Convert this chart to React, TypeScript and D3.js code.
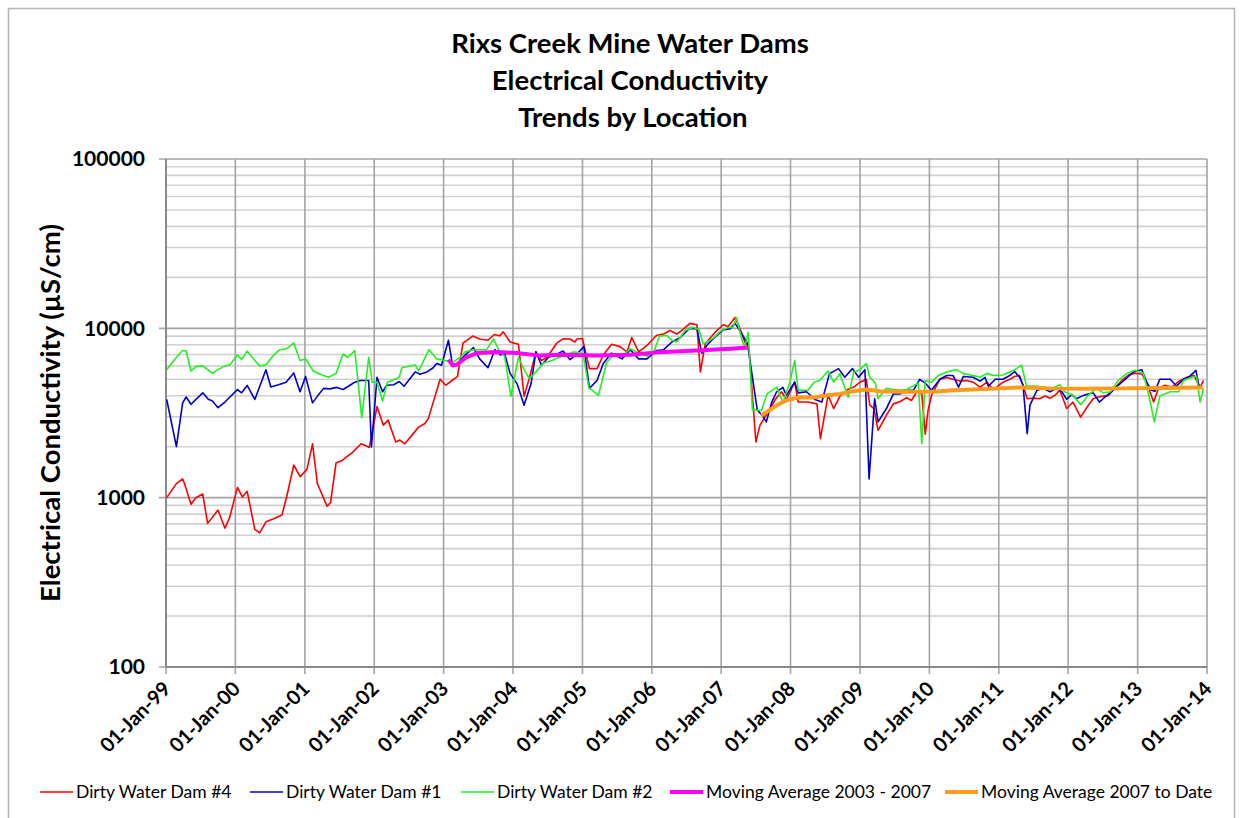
import { useEffect } from 'react';
import * as d3 from 'd3';

// Sample dates are decimal years, values in µS/cm
const dam4: [number, number][] = [
  [1999.01, 1000], [1999.15, 1210], [1999.24, 1290], [1999.27, 1200], [1999.36, 915], [1999.43, 1000],
  [1999.53, 1050], [1999.60, 705], [1999.75, 845], [1999.85, 660], [1999.92, 770], [2000.03, 1150],
  [2000.10, 1010], [2000.17, 1090], [2000.28, 650], [2000.35, 620], [2000.44, 720], [2000.55, 750],
  [2000.67, 790], [2000.74, 1020], [2000.84, 1560], [2000.93, 1330], [2001.03, 1470], [2001.11, 2080],
  [2001.18, 1210], [2001.32, 890], [2001.37, 935], [2001.45, 1610], [2001.53, 1650], [2001.60, 1740],
  [2001.68, 1840], [2001.81, 2080], [2001.87, 2030], [2001.93, 1980], [2002.04, 3450], [2002.13, 2680],
  [2002.20, 2870], [2002.31, 2130], [2002.37, 2190], [2002.44, 2080], [2002.64, 2610], [2002.73, 2740],
  [2002.78, 2930], [2002.95, 5000], [2003.03, 4610], [2003.12, 4920], [2003.20, 5180], [2003.28, 8170],
  [2003.42, 9000], [2003.52, 8650], [2003.64, 8500], [2003.73, 9200], [2003.81, 9030], [2003.86, 9530],
  [2003.96, 8300], [2004.08, 8050], [2004.16, 3970], [2004.24, 5140], [2004.33, 7260], [2004.41, 6450],
  [2004.49, 6750], [2004.63, 8170], [2004.72, 8670], [2004.82, 8650], [2004.89, 8300], [2004.92, 8650],
  [2005.00, 8700], [2005.10, 5780], [2005.21, 5780], [2005.30, 6950], [2005.42, 8050], [2005.54, 7800],
  [2005.64, 7260], [2005.71, 8830], [2005.81, 7260], [2005.93, 7920], [2006.07, 9100], [2006.17, 9250],
  [2006.26, 9700], [2006.36, 9250], [2006.45, 9860], [2006.55, 10700], [2006.65, 10500], [2006.70, 5530],
  [2006.77, 8100], [2006.91, 9460], [2007.03, 10500], [2007.10, 10250], [2007.20, 11600], [2007.27, 9990],
  [2007.34, 8300], [2007.40, 7750], [2007.50, 2130], [2007.56, 2680], [2007.66, 3130], [2007.78, 3800],
  [2007.87, 4220], [2007.94, 3800], [2008.06, 4810], [2008.11, 3670], [2008.25, 3670], [2008.38, 3580],
  [2008.43, 2230], [2008.54, 4020], [2008.62, 3360], [2008.71, 3970], [2008.82, 4350], [2008.91, 4500],
  [2009.00, 4810], [2009.09, 5000], [2009.14, 3520], [2009.20, 3360], [2009.26, 2500], [2009.38, 3070],
  [2009.48, 3580], [2009.58, 3700], [2009.67, 3900], [2009.74, 3750], [2009.82, 4220], [2009.89, 4100],
  [2009.94, 2370], [2009.98, 3270], [2010.03, 4020], [2010.15, 5000], [2010.25, 5130], [2010.34, 5000],
  [2010.44, 4880], [2010.54, 4920], [2010.63, 4810], [2010.73, 4500], [2010.83, 4810], [2010.92, 4350],
  [2010.97, 4500], [2011.06, 4810], [2011.16, 5000], [2011.23, 5200], [2011.30, 5270], [2011.35, 4610],
  [2011.41, 3840], [2011.50, 3870], [2011.59, 3840], [2011.67, 3980], [2011.74, 3870], [2011.81, 4020],
  [2011.88, 4310], [2011.98, 3360], [2012.07, 3670], [2012.18, 2990], [2012.27, 3420], [2012.36, 3840],
  [2012.43, 3930], [2012.51, 3980], [2012.58, 4020], [2012.67, 4420], [2012.77, 4920], [2012.87, 5300],
  [2012.96, 5430], [2013.06, 5370], [2013.13, 4810], [2013.23, 3670], [2013.30, 4420], [2013.39, 4610],
  [2013.49, 4500], [2013.59, 4850], [2013.71, 5140], [2013.81, 5270], [2013.90, 4500], [2013.95, 4920],
];

const dam1: [number, number][] = [
  [1999.01, 3810], [1999.15, 2000], [1999.24, 3630], [1999.29, 3930], [1999.36, 3560], [1999.53, 4160],
  [1999.61, 3810], [1999.67, 3720], [1999.75, 3400], [1999.85, 3670], [2000.03, 4350], [2000.09, 4160],
  [2000.17, 4600], [2000.28, 3800], [2000.44, 5700], [2000.51, 4500], [2000.62, 4640], [2000.73, 4810],
  [2000.84, 5450], [2000.93, 4220], [2001.01, 5200], [2001.11, 3630], [2001.19, 4020], [2001.27, 4420],
  [2001.36, 4390], [2001.46, 4480], [2001.55, 4350], [2001.65, 4610], [2001.72, 4810], [2001.80, 4920],
  [2001.92, 4920], [2001.96, 1990], [2002.04, 5140], [2002.12, 4220], [2002.18, 4610], [2002.28, 4640],
  [2002.36, 4850], [2002.43, 4550], [2002.59, 5530], [2002.66, 5350], [2002.76, 5530], [2002.85, 5850],
  [2002.90, 6200], [2002.97, 6050], [2003.07, 8500], [2003.13, 6050], [2003.21, 6250], [2003.31, 6950],
  [2003.43, 7700], [2003.52, 6600], [2003.64, 5850], [2003.74, 7480], [2003.82, 6950], [2003.88, 7100],
  [2003.96, 5400], [2004.06, 4700], [2004.16, 3510], [2004.26, 4700], [2004.33, 7260], [2004.41, 6050],
  [2004.51, 6750], [2004.61, 6950], [2004.72, 7340], [2004.82, 6540], [2004.92, 7050], [2005.02, 7800],
  [2005.10, 4420], [2005.21, 4920], [2005.30, 6200], [2005.42, 7140], [2005.57, 6600], [2005.69, 7480],
  [2005.81, 6600], [2005.93, 6600], [2006.07, 7400], [2006.17, 7480], [2006.29, 8300], [2006.41, 8830],
  [2006.54, 9960], [2006.65, 9960], [2006.72, 7140], [2006.81, 8100], [2006.94, 9100], [2007.03, 9780],
  [2007.13, 9960], [2007.20, 10700], [2007.30, 9270], [2007.38, 8100], [2007.52, 3300], [2007.59, 3070],
  [2007.65, 2800], [2007.73, 3670], [2007.80, 4220], [2007.89, 4480], [2007.94, 4020], [2008.06, 4810],
  [2008.11, 4160], [2008.23, 4220], [2008.35, 3800], [2008.45, 3670], [2008.56, 5400], [2008.69, 5780],
  [2008.78, 5140], [2008.89, 5780], [2008.98, 5140], [2009.07, 5700], [2009.13, 1290], [2009.21, 3850],
  [2009.26, 2800], [2009.38, 3360], [2009.48, 4100], [2009.58, 4100], [2009.67, 4310], [2009.77, 4310],
  [2009.86, 5000], [2009.94, 4750], [2010.03, 4310], [2010.15, 5000], [2010.25, 5270], [2010.34, 5270],
  [2010.42, 4500], [2010.49, 5200], [2010.63, 5140], [2010.73, 4880], [2010.80, 5140], [2010.85, 4550],
  [2010.95, 5000], [2011.06, 5000], [2011.16, 5270], [2011.23, 5550], [2011.30, 5140], [2011.35, 4610],
  [2011.41, 2390], [2011.45, 3520], [2011.55, 4310], [2011.64, 4420], [2011.74, 4220], [2011.83, 4420],
  [2011.91, 4220], [2011.98, 3810], [2012.05, 4060], [2012.12, 3840], [2012.22, 4020], [2012.36, 4160],
  [2012.45, 3670], [2012.53, 3930], [2012.63, 4250], [2012.72, 4610], [2012.82, 5000], [2012.94, 5530],
  [2013.06, 5700], [2013.13, 4810], [2013.20, 4310], [2013.25, 4250], [2013.32, 5000], [2013.47, 5000],
  [2013.56, 4560], [2013.66, 5000], [2013.75, 5200], [2013.84, 5650], [2013.89, 4420],
];

const dam2: [number, number][] = [
  [1999.01, 5700], [1999.15, 6750], [1999.24, 7400], [1999.29, 7340], [1999.36, 5600], [1999.43, 5940],
  [1999.53, 6000], [1999.67, 5430], [1999.75, 5700], [1999.85, 6000], [1999.92, 6080], [2000.03, 6950],
  [2000.09, 6540], [2000.17, 7340], [2000.28, 6450], [2000.35, 6000], [2000.44, 6080], [2000.55, 6950],
  [2000.64, 7480], [2000.74, 7580], [2000.84, 8200], [2000.93, 6450], [2001.01, 6600], [2001.12, 5600],
  [2001.22, 5350], [2001.34, 5140], [2001.45, 5420], [2001.55, 7050], [2001.62, 6750], [2001.72, 7400],
  [2001.82, 2970], [2001.92, 6750], [2001.97, 4810], [2002.04, 4810], [2002.12, 3720], [2002.19, 4810],
  [2002.28, 4970], [2002.36, 5140], [2002.40, 5850], [2002.59, 6080], [2002.64, 5600], [2002.79, 7480],
  [2002.90, 6600], [2003.02, 6450], [2003.13, 6300], [2003.24, 6750], [2003.31, 7260], [2003.43, 7480],
  [2003.62, 7480], [2003.72, 8650], [2003.81, 7260], [2003.88, 6840], [2003.97, 3970], [2004.08, 6750],
  [2004.16, 5700], [2004.24, 5020], [2004.33, 5530], [2004.44, 6250], [2004.56, 6450], [2004.70, 6840],
  [2004.87, 7260], [2005.01, 7100], [2005.09, 4480], [2005.23, 4020], [2005.35, 6300], [2005.47, 7100],
  [2005.59, 6950], [2005.69, 7580], [2005.81, 7140], [2005.93, 6840], [2006.03, 7260], [2006.11, 9000],
  [2006.21, 9100], [2006.29, 8500], [2006.36, 8300], [2006.48, 9700], [2006.60, 10150], [2006.68, 9800],
  [2006.74, 8100], [2006.88, 8700], [2006.98, 9530], [2007.09, 10100], [2007.17, 10150], [2007.22, 11600],
  [2007.30, 8500], [2007.34, 7800], [2007.39, 9460], [2007.45, 3300], [2007.58, 3270], [2007.66, 4100],
  [2007.80, 4500], [2007.89, 3630], [2007.99, 4810], [2008.06, 6450], [2008.11, 4310], [2008.25, 4310],
  [2008.34, 4810], [2008.42, 4920], [2008.54, 5600], [2008.62, 4810], [2008.71, 5400], [2008.83, 3910],
  [2008.91, 5530], [2009.00, 5700], [2009.09, 6200], [2009.14, 5140], [2009.22, 4750], [2009.26, 3850],
  [2009.38, 4420], [2009.48, 4350], [2009.58, 4310], [2009.67, 4350], [2009.84, 4750], [2009.89, 2080],
  [2009.94, 4920], [2010.03, 4810], [2010.13, 5270], [2010.25, 5530], [2010.39, 5700], [2010.49, 5400],
  [2010.63, 5270], [2010.73, 5140], [2010.83, 5420], [2010.92, 5270], [2011.06, 5300], [2011.23, 5700],
  [2011.33, 6050], [2011.40, 4560], [2011.52, 4560], [2011.64, 4500], [2011.76, 4420], [2011.88, 4650],
  [2011.95, 4220], [2012.07, 4020], [2012.18, 3540], [2012.29, 4020], [2012.40, 4420], [2012.51, 4160],
  [2012.61, 4220], [2012.72, 4920], [2012.84, 5400], [2012.96, 5650], [2013.08, 5430], [2013.15, 4220],
  [2013.24, 2800], [2013.32, 3980], [2013.47, 4220], [2013.59, 4220], [2013.66, 4920], [2013.78, 5140],
  [2013.85, 5200], [2013.90, 3670], [2013.95, 4420],
];

const maEarly: [number, number][] = [
  [2003.07, 6540], [2003.13, 6050], [2003.19, 6100], [2003.33, 6750], [2003.48, 7140], [2003.77, 7260],
  [2004.05, 7140], [2004.39, 6900], [2004.72, 6980], [2005.21, 6900], [2005.69, 6980], [2006.17, 7260],
  [2006.65, 7400], [2007.13, 7580], [2007.39, 7700],
];

const maLate: [number, number][] = [
  [2007.58, 3070], [2007.68, 3250], [2007.80, 3510], [2007.94, 3760], [2008.11, 3900], [2008.33, 3900],
  [2008.52, 4020], [2008.71, 4100], [2008.90, 4250], [2009.10, 4350], [2009.29, 4250], [2009.53, 4220],
  [2009.77, 4220], [2010.06, 4220], [2010.34, 4310], [2010.63, 4350], [2011.01, 4420], [2011.31, 4480],
  [2011.74, 4420], [2012.27, 4400], [2012.75, 4420], [2013.32, 4450], [2013.94, 4480],
];

const titleLines = ['Rixs Creek Mine Water Dams', 'Electrical Conductivity', ' Trends by Location'];
const yTicks = [100, 1000, 10000, 100000];
const yearTicks = d3.range(1999, 2015);

const series = [
  { name: 'Dirty Water Dam #4', data: dam4, color: '#ff0000', width: 1.6 },
  { name: 'Dirty Water Dam #1', data: dam1, color: '#0000c8', width: 1.6 },
  { name: 'Dirty Water Dam #2', data: dam2, color: '#22f022', width: 1.6 },
  { name: 'Moving Average 2003 - 2007', data: maEarly, color: '#ff00ff', width: 4 },
  { name: 'Moving Average 2007 to Date', data: maLate, color: '#ff9a1a', width: 4 },
];
const legendX = [40, 250, 461, 670, 945];

const toDate = (y: number) => {
  const yr = Math.floor(y);
  const start = new Date(yr, 0, 1).getTime();
  const end = new Date(yr + 1, 0, 1).getTime();
  return new Date(start + (y - yr) * (end - start));
};

const W = 1243, H = 818;
const m = { left: 166, right: 1207, top: 159, bottom: 667 };
const font = 'Lato, "Open Sans", sans-serif';

export default function App() {
  useEffect(() => {
    document.body.style.margin = '0';
  }, []);

  const x = d3.scaleTime()
    .domain([new Date(1999, 0, 1), new Date(2014, 0, 1)])
    .range([m.left, m.right]);
  const y = d3.scaleLog().domain([100, 100000]).range([m.bottom, m.top]);

  const minor: number[] = [];
  for (let d = 100; d < 100000; d *= 10) {
    for (let k = 2; k <= 9; k++) minor.push(d * k);
  }

  const line = d3.line<[number, number]>()
    .x(d => x(toDate(d[0])))
    .y(d => y(d[1]));

  const fmt = d3.timeFormat('%d-%b-%y');

  return (
    <svg width={W} height={H} style={{ display: 'block', fontFamily: font }}>
      <rect x={0} y={0} width={W} height={H} fill="#fff" />
      <rect x={8.5} y={8.5} width={1226} height={830} fill="none" stroke="#b4b4b4" strokeWidth={1.5} />

      {titleLines.map((t, i) => (
        <text key={i} x={630} y={53 + i * 37} textAnchor="middle" fontSize={27.5} fontWeight="bold" fill="#000"
          style={{ whiteSpace: 'pre' }}>{t}</text>
      ))}

      {/* grid */}
      {minor.map(v => (
        <line key={'mn' + v} x1={m.left} x2={m.right} y1={y(v)} y2={y(v)} stroke="#d0d0d0" strokeWidth={1.6} />
      ))}
      {yTicks.map(v => (
        <line key={'mj' + v} x1={m.left - 7} x2={m.right} y1={y(v)} y2={y(v)} stroke="#a4a4a4" strokeWidth={1.6} />
      ))}
      {yearTicks.map(yr => (
        <line key={'v' + yr} x1={x(new Date(yr, 0, 1))} x2={x(new Date(yr, 0, 1))} y1={m.top} y2={m.bottom + 7}
          stroke="#a4a4a4" strokeWidth={1.6} />
      ))}
      <line x1={m.left} x2={m.left} y1={m.top} y2={m.bottom} stroke="#8a8a8a" strokeWidth={2} />
      <line x1={m.left} x2={m.right} y1={m.bottom} y2={m.bottom} stroke="#8a8a8a" strokeWidth={2} />

      {/* y tick labels */}
      {yTicks.map(v => (
        <text key={'yl' + v} x={145} y={y(v)} dy="0.35em" textAnchor="end" fontSize={21} fontWeight="bold">{v}</text>
      ))}
      <text transform={`translate(60,${(m.top + m.bottom) / 2}) rotate(-90)`} textAnchor="middle" fontSize={27.5}
        fontWeight="bold">Electrical Conductivity (µS/cm)</text>

      {/* x tick labels */}
      {yearTicks.map(yr => {
        const px = x(new Date(yr, 0, 1));
        return (
          <text key={'xl' + yr} transform={`translate(${px + 6},${m.bottom + 23}) rotate(-45)`} textAnchor="end"
            fontSize={20} fontWeight="bold">{fmt(new Date(yr, 0, 1))}</text>
        );
      })}

      {/* series */}
      <g fill="none" strokeLinejoin="round">
        {series.map(s => (
          <path key={s.name} d={line(s.data) || ''} stroke={s.color} strokeWidth={s.width} />
        ))}
      </g>

      {/* legend */}
      {series.map((s, i) => (
        <g key={'lg' + i} transform={`translate(${legendX[i]},792)`}>
          <line x1={0} x2={33} y1={0} y2={0} stroke={s.color} strokeWidth={s.width > 2 ? 4 : 1.6} />
          <text x={36} y={0} dy="0.35em" fontSize={17.5} fill="#000">{s.name}</text>
        </g>
      ))}
    </svg>
  );
}
